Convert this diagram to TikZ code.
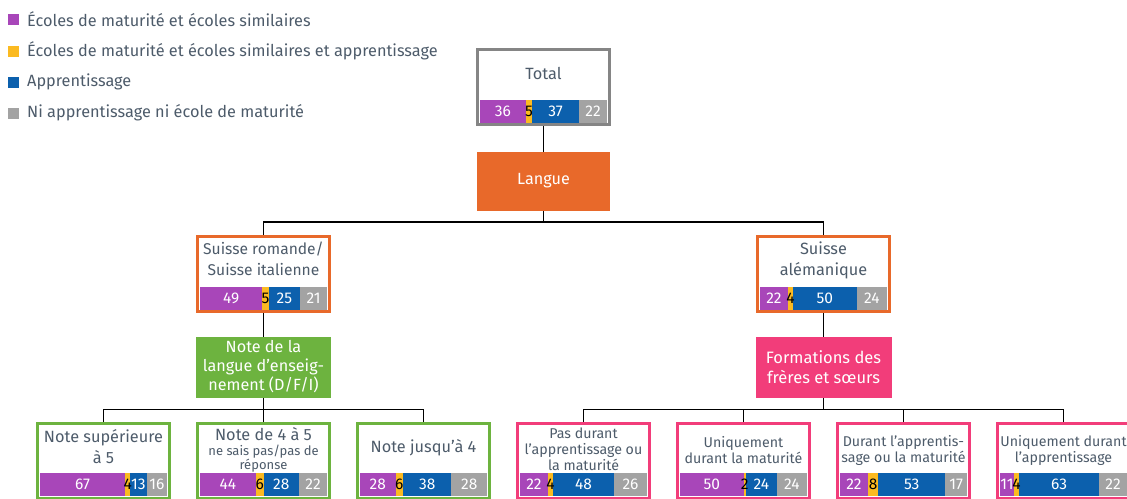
\documentclass[tikz,border=0pt]{standalone}
\usepackage{fontspec}
\setmainfont{Fira Sans}
\definecolor{cP}{HTML}{A846B9}
\definecolor{cY}{HTML}{FBBA21}
\definecolor{cB}{HTML}{0C60AD}
\definecolor{cG}{HTML}{A3A3A3}
\definecolor{cO}{HTML}{E8692A}
\definecolor{cGr}{HTML}{6DB33F}
\definecolor{cPk}{HTML}{F23D7A}
\definecolor{cT}{HTML}{4D5B6A}
\definecolor{cBox}{HTML}{858585}
\newcommand\pbar[6]{%
 \pgfmathsetmacro\xa{#1+1.27*#3}%
 \pgfmathsetmacro\xb{\xa+1.27*#4}%
 \pgfmathsetmacro\xc{\xb+1.27*#5}%
 \pgfmathsetmacro\xd{#1+127}%
 \fill[cP] (#1,#2) rectangle (\xa,#2+23);
 \fill[cY] (\xa,#2) rectangle (\xb,#2+23);
 \fill[cB] (\xb,#2) rectangle (\xc,#2+23);
 \fill[cG] (\xc,#2) rectangle (\xd,#2+23);
 \node[segtext] at ({(#1+\xa)/2},#2+11.5) {#3};
 \node[segtext,text=black] at ({(\xa+\xb)/2},#2+11.5) {#4};
 \node[segtext] at ({(\xb+\xc)/2},#2+11.5) {#5};
 \node[segtext] at ({(\xc+\xd)/2},#2+11.5) {#6};
}
\begin{document}
\begin{tikzpicture}[x=1pt,y=-1pt,
  segtext/.style={text=white,font=\fontsize{15.5}{18}\selectfont,inner sep=0pt},
  lbl/.style={text=cT,font=\fontsize{16.3}{21}\selectfont,align=center,inner sep=0pt},
  lblsm/.style={text=cT,font=\fontsize{14.2}{16}\selectfont,align=center,inner sep=0pt},
  wlbl/.style={text=white,font=\fontsize{16.2}{19}\selectfont,align=center,inner sep=0pt},
  legtext/.style={text=cT,font=\fontsize{16.3}{18}\selectfont,anchor=west,inner sep=0pt},
  databox/.style={draw=#1,line width=3pt,fill=white,minimum width=132pt,minimum height=75pt,inner sep=0pt},
  fillbox/.style={fill=#1,minimum width=135pt,inner sep=0pt},
  conn/.style={line width=1.5pt,black}]
\useasboundingbox (0,0) rectangle (1127,498);
% legend
\fill[cP] (8,13.5) rectangle (19,24.5);
\node[legtext] (l1) at (27,19) {Écoles de maturité et écoles similaires};
\fill[cY] (8,45.5) rectangle (19,56.5);
\node[legtext] (l2) at (27,51) {Écoles de maturité et écoles similaires et apprentissage};
\fill[cB] (8,76.5) rectangle (19,87.5);
\node[legtext] (l3) at (27,82) {Apprentissage};
\fill[cG] (8,107.5) rectangle (19,118.5);
\node[legtext] (l4) at (27,113) {Ni apprentissage ni école de maturité};
% boxes
\node[databox=cBox] (total) at (543.5,87) {};
\node[fillbox=cO,minimum width=133pt,minimum height=59pt] (langue) at (543.5,181.5) {};
\node[databox=cO] (rom) at (263.5,274) {};
\node[databox=cO] (alem) at (823.5,274) {};
\node[fillbox=cGr,minimum height=61pt] (note) at (263.5,367.5) {};
\node[fillbox=cPk,minimum height=61pt,minimum width=136pt] (form) at (823.5,367.5) {};
\node[databox=cGr] (n1) at (103.5,461) {};
\node[databox=cGr] (n2) at (263.5,461) {};
\node[databox=cGr] (n3) at (423.5,461) {};
\node[databox=cPk] (f1) at (583.5,461) {};
\node[databox=cPk] (f2) at (743.5,461) {};
\node[databox=cPk] (f3) at (903.5,461) {};
\node[databox=cPk] (f4) at (1063.5,461) {};
% connectors
\draw[conn] (total.south) -- (langue.north);
\draw[conn] (langue.south) -- ++(0,11) coordinate (j1);
\draw[conn] (j1) -| (rom.north);
\draw[conn] (j1) -| (alem.north);
\draw[conn] (rom.south) -- (note.north);
\draw[conn] (alem.south) -- (form.north);
\draw[conn] (note.south) -- ++(0,11.5) coordinate (j2);
\draw[conn] (j2) -| (n1.north);
\draw[conn] (j2) -| (n3.north);
\draw[conn] (j2) -- (n2.north);
\draw[conn] (form.south) -- ++(0,11.5) coordinate (j3);
\draw[conn] (j3) -| (f1.north);
\draw[conn] (j3) -| (f2.north);
\draw[conn] (j3) -| (f3.north);
\draw[conn] (j3) -| (f4.north);
% labels
\node[lbl] (tTotal) at (543.5,73) {Total};
\node[wlbl] (tLangue) at (543.5,181) {Langue};
\node[lbl,font=\fontsize{15.6}{21.5}\selectfont] (tRom) at (263.5,259) {Suisse romande/\\Suisse italienne};
\node[lbl] (tAlem) at (823.5,260) {Suisse\\alémanique};
\node[wlbl] (tNote) at (263.5,367) {Note de la\\langue d’enseig-\\nement (D/F/I)};
\node[wlbl,font=\fontsize{16.5}{20}\selectfont] (tForm) at (823.5,367) {Formations des\\frères et sœurs};
\node[lbl] (tN1) at (103.5,447) {Note supérieure\\à 5};
\node[lbl] (tN2) at (263.5,434) {Note de 4 à 5};
\node[lblsm,font=\fontsize{13}{14.5}\selectfont] (tN2b) at (263.5,458.5) {ne sais pas/pas de\\réponse};
\node[lbl] (tN3) at (423.5,448) {Note jusqu’à 4};
\node[lblsm] (tF1) at (583.5,449) {Pas durant\\l’apprentissage ou\\la maturité};
\node[lblsm] (tF2) at (743.5,450) {Uniquement\\durant la maturité};
\node[lblsm] (tF3) at (903.5,450) {Durant l’apprentis-\\sage ou la maturité};
\node[lblsm] (tF4) at (1063.5,450) {Uniquement durant\\l’apprentissage};
% bars
\pbar{480}{100}{36}{5}{37}{22}
\pbar{200}{287}{49}{5}{25}{21}
\pbar{760}{287}{22}{4}{50}{24}
\pbar{40}{473}{67}{4}{13}{16}
\pbar{200}{473}{44}{6}{28}{22}
\pbar{360}{473}{28}{6}{38}{28}
\pbar{520}{473}{22}{4}{48}{26}
\pbar{680}{473}{50}{2}{24}{24}
\pbar{840}{473}{22}{8}{53}{17}
\pbar{1000}{473}{11}{4}{63}{22}
\end{tikzpicture}
\end{document}
